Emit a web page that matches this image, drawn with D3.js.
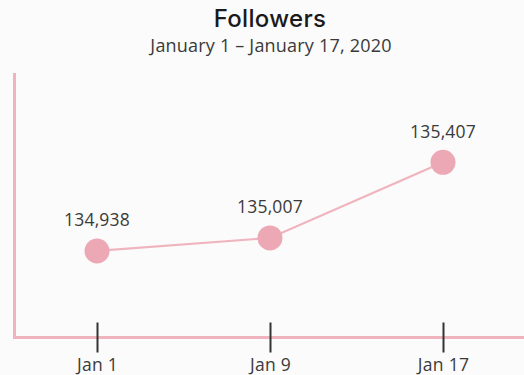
<!DOCTYPE html>
<html>
<head>
<meta charset="utf-8">
<script src="https://cdn.jsdelivr.net/npm/d3@7"></script>
<style>
  html, body { margin: 0; padding: 0; background: #fbfbfb; }
  svg { display: block; font-family: "Open Sans", sans-serif; }
</style>
</head>
<body>
<svg id="chart" width="524" height="375"></svg>
<script>
// Follower counts sampled on three dates
const dates = ["Jan 1", "Jan 9", "Jan 17"];
const followers = [134938, 135007, 135407];
const yDomain = [134480, 135880];

const title = "Followers";
const subtitle = "January 1 \u2013 January 17, 2020";

const W = 524, H = 375;
const axisX = 14.5, axisY = 337.5, axisTop = 73;
const pink = "#efb4be", dot = "#eca8b4", ink = "#3a3a3a";

const svg = d3.select("#chart");

svg.append("text")
  .attr("x", 270).attr("y", 27)
  .attr("text-anchor", "middle")
  .attr("font-family", "Inter, sans-serif")
  .attr("font-size", 24).attr("font-weight", 500)
  .attr("letter-spacing", 0.3)
  .attr("fill", "#1a1a1a")
  .text(title);

svg.append("text")
  .attr("x", 271).attr("y", 52)
  .attr("text-anchor", "middle")
  .attr("font-size", 18)
  .attr("letter-spacing", 0.2)
  .attr("fill", "#3a3a3a")
  .text(subtitle);

const x = d3.scalePoint().domain(dates).range([97, 443]);
const y = d3.scaleLinear().domain(yDomain).range([axisY, axisTop]);

// Axis frame: vertical and horizontal pink rules
svg.append("line")
  .attr("x1", axisX).attr("x2", axisX)
  .attr("y1", axisTop).attr("y2", axisY + 1.5)
  .attr("stroke", pink).attr("stroke-width", 3);
svg.append("line")
  .attr("x1", axisX - 1.5).attr("x2", W)
  .attr("y1", axisY).attr("y2", axisY)
  .attr("stroke", pink).attr("stroke-width", 3);

// Date ticks and labels
const xAxis = d3.axisBottom(x).tickSizeInner(15).tickSizeOuter(0).tickPadding(6);
const gx = svg.append("g").attr("transform", `translate(0,${axisY})`).call(xAxis);
gx.select(".domain").remove();
gx.selectAll(".tick line")
  .attr("y1", -15).attr("y2", 15)
  .attr("stroke", "#333").attr("stroke-width", 2);
gx.selectAll(".tick text")
  .attr("y", 0).attr("dy", 0)
  .attr("transform", "translate(0,33.5)")
  .attr("font-size", 17.5).attr("fill", ink)
  .attr("letter-spacing", 0.3)
  .attr("font-family", "Open Sans, sans-serif");

const data = dates.map((d, i) => ({ date: d, value: followers[i] }));

svg.append("path")
  .datum(data)
  .attr("fill", "none")
  .attr("stroke", pink).attr("stroke-width", 2.2)
  .attr("d", d3.line().x(d => x(d.date)).y(d => y(d.value)));

svg.selectAll("circle.pt")
  .data(data).join("circle")
  .attr("class", "pt")
  .attr("cx", d => x(d.date)).attr("cy", d => y(d.value))
  .attr("r", 12.5)
  .attr("fill", dot);

svg.selectAll("text.val")
  .data(data).join("text")
  .attr("class", "val")
  .attr("x", d => x(d.date)).attr("y", d => y(d.value) - 24.5)
  .attr("text-anchor", "middle")
  .attr("font-size", 17.5).attr("fill", ink)
  .attr("letter-spacing", 0.2)
  .text(d => d3.format(",")(d.value));
</script>
</body>
</html>
